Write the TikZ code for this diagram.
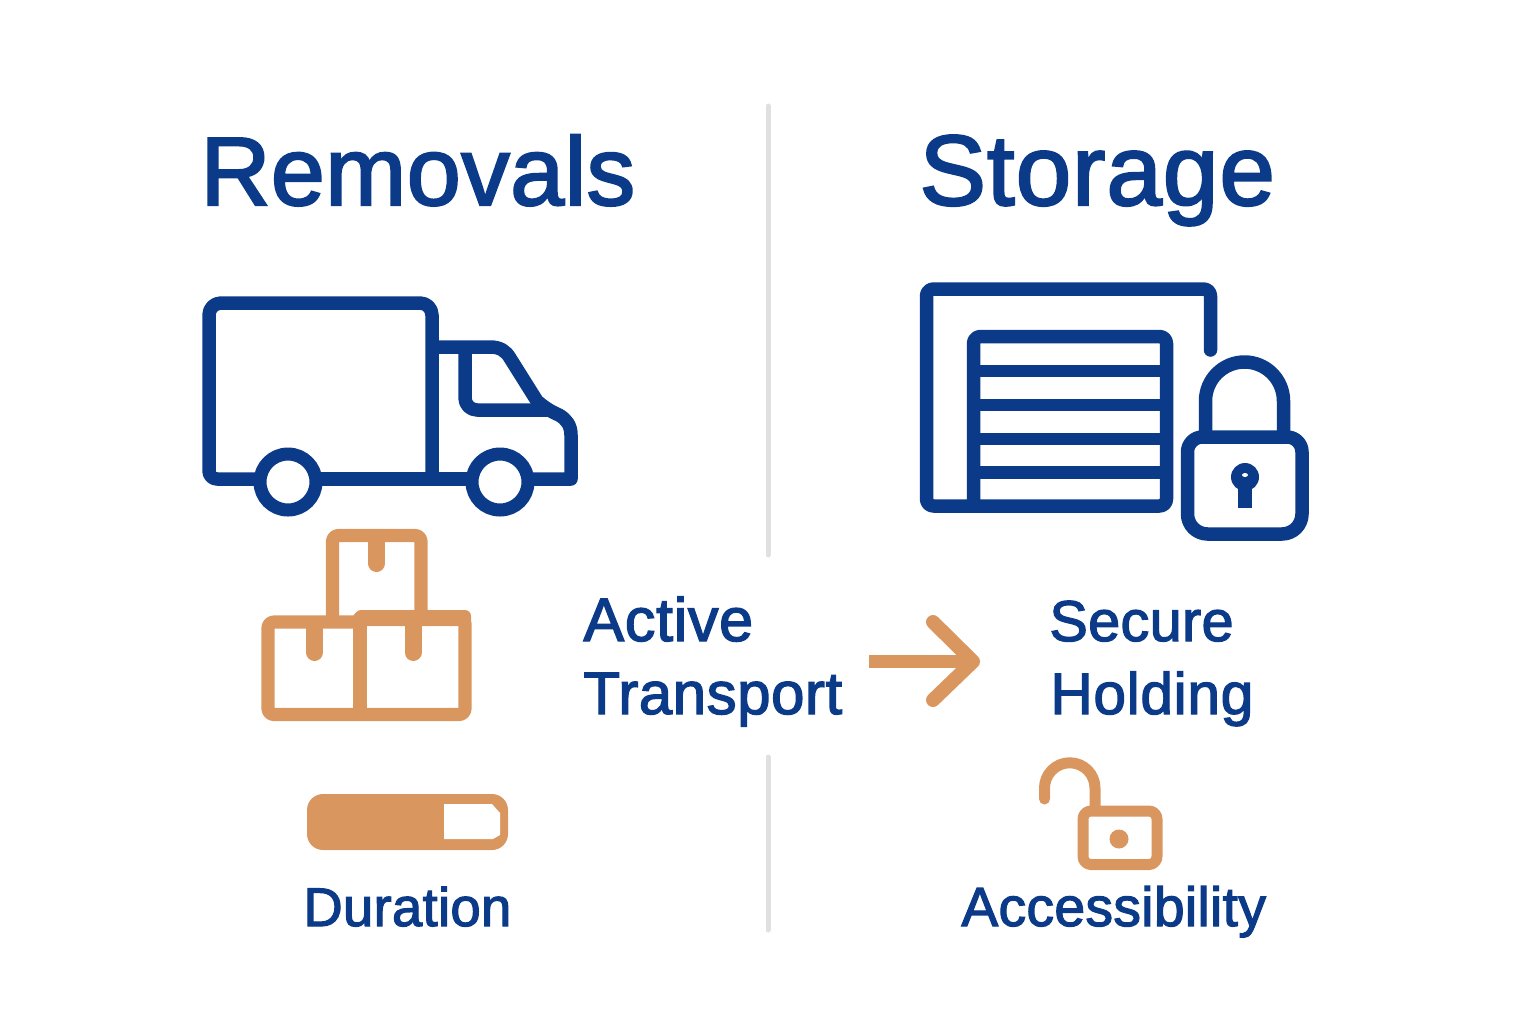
\documentclass[tikz,border=0pt]{standalone}
\usepackage{fontspec}
\setmainfont{Liberation Sans}[FakeBold=2.2]
\definecolor{navy}{HTML}{0A3A88}
\definecolor{tan}{HTML}{D9965F}
\definecolor{rule}{HTML}{E0E0E0}
\newcommand{\fsz}[2]{\fontsize{#1}{#1}\selectfont\addfontfeature{LetterSpace=#2}}
\tikzset{
  x=0.5pt,y=-0.5pt,
  navyline/.style={draw=navy,line width=6.75pt,line join=round,line cap=round},
  navybar/.style={draw=navy,line width=6.2pt},
  tanline/.style={draw=tan,line width=6.6pt,line join=round,line cap=round},
  tantab/.style={draw=tan,line width=8.5pt,line cap=round},
  tanlock/.style={draw=tan,line width=5.5pt,line join=round,line cap=round},
  divider/.style={draw=rule,line width=2.5pt,line cap=round},
  textlabel/.style={text=navy,anchor=base west,inner sep=0pt},
}
\begin{document}
\begin{tikzpicture}
\useasboundingbox (0,0) rectangle (1536,1024);
\draw[divider] (768,106) -- (768,555);
\draw[divider] (768,757) -- (768,930);
\node[textlabel,font=\fsz{48.6}{0.4}] (tr) at (200,205) {Removals};
\node[textlabel,font=\fsz{50}{0.9}] (ts) at (919,205) {Storage};
% truck body
\draw[navyline] (432,479) -- (432,315) arc[start angle=0,end angle=-90,radius=12] -- (221,303) arc[start angle=-90,end angle=-180,radius=12] -- (209,471) arc[start angle=180,end angle=90,radius=8] -- (256,479);
\draw[navyline] (320,479) -- (468,479);
% cab
\draw[navyline] (434,347) -- (490,347) .. controls (500,347) and (506,351) .. (510,358) -- (537,401) .. controls (545,408) and (552,412) .. (559,415) .. controls (566,419) and (571,425) .. (571,435) -- (571,479) -- (534,479);
\draw[navyline] (465,349) -- (465,398) arc[start angle=180,end angle=90,radius=12] -- (547,410);
\draw[navyline,line width=6.5pt,fill=white] (288,482) circle[radius=28];
\draw[navyline,line width=6.5pt,fill=white] (500,482) circle[radius=28];
% boxes
\draw[tanline,rounded corners=3pt] (332.5,618) -- (332.5,535.5) -- (421,535.5) -- (421,618);
\draw[tanline,rounded corners=3pt] (360,622) -- (268,622) -- (268,714.5) -- (465,714.5) -- (465,618) -- (360,618);
\draw[tanline] (360,618) -- (360,714.5);
\fill[tan,rounded corners=3pt] (355,610) rectangle (471,626);
\draw[tantab] (376.5,540) -- (376.5,563.5);
\draw[tantab] (314.5,625) -- (314.5,652.5);
\draw[tantab] (413,620) -- (413,652.5);
% garage
\draw[navyline,rounded corners=3.5pt] (1210.5,350) -- (1210.5,289) -- (926.5,289) -- (926.5,506) -- (1166.5,506) -- (1166.5,336.5) -- (973.5,336.5) -- (973.5,506);
\draw[navybar] (973,371) -- (1167,371);
\draw[navybar] (973,405) -- (1167,405);
\draw[navybar] (973,439) -- (1167,439);
\draw[navybar] (973,472.5) -- (1167,472.5);
% lock
\draw[navyline,line cap=butt] (1205.5,437) -- (1205.5,401) arc[start angle=180,end angle=360,radius=39] -- (1283.5,437);
\draw[navyline,fill=white] (1203,437) -- (1287,437) arc[start angle=-90,end angle=0,radius=15] -- (1302,514) arc[start angle=0,end angle=90,radius=20] -- (1207.5,534) arc[start angle=90,end angle=180,radius=20] -- (1187.5,452) arc[start angle=180,end angle=270,radius=15] -- cycle;
\fill[navy] (1245,477) circle[radius=14];
\fill[navy] (1238,480) rectangle (1252,508);
\fill[white] (1245,475) ellipse[x radius=3,y radius=2];
% labels
\node[textlabel,font=\fsz{30.6}{1}] (l1) at (583,641) {Active};
\node[textlabel,font=\fsz{30}{0.9}] (l2) at (583,714) {Transport};
\node[textlabel,font=\fsz{28.8}{0.6}] (l3) at (1049,641) {Secure};
\node[textlabel,font=\fsz{29.3}{1.2}] (l4) at (1050,714) {Holding};
\node[textlabel,font=\fsz{27.2}{0.6}] (l5) at (303,926) {Duration};
\node[textlabel,font=\fsz{27.6}{0.6}] (l6) at (961,926) {Accessibility};
% arrow
\coordinate (as) at (869,661.5);
\coordinate (ae) at (972,661.5);
\draw[tanline,line cap=butt] (as) -- (ae);
\draw[tanline,line width=7pt] (933,622) -- (973,661.5) -- (933,700);
% duration bar
\fill[tan,rounded corners=8pt] (307,794) rectangle (508,850);
\fill[white] (444,804) -- (492,804) -- (500,813) -- (500,835) -- (493,839) -- (444,839) -- cycle;
% open lock
\draw[tanlock] (1044.5,799) -- (1044.5,788) arc[start angle=180,end angle=360,radius=25.25] -- (1095,811);
\draw[tanlock,fill=white,rounded corners=4pt] (1083,811) rectangle (1157,864.5);
\fill[tan] (1119,839) circle[radius=9.5];
\end{tikzpicture}
\end{document}
